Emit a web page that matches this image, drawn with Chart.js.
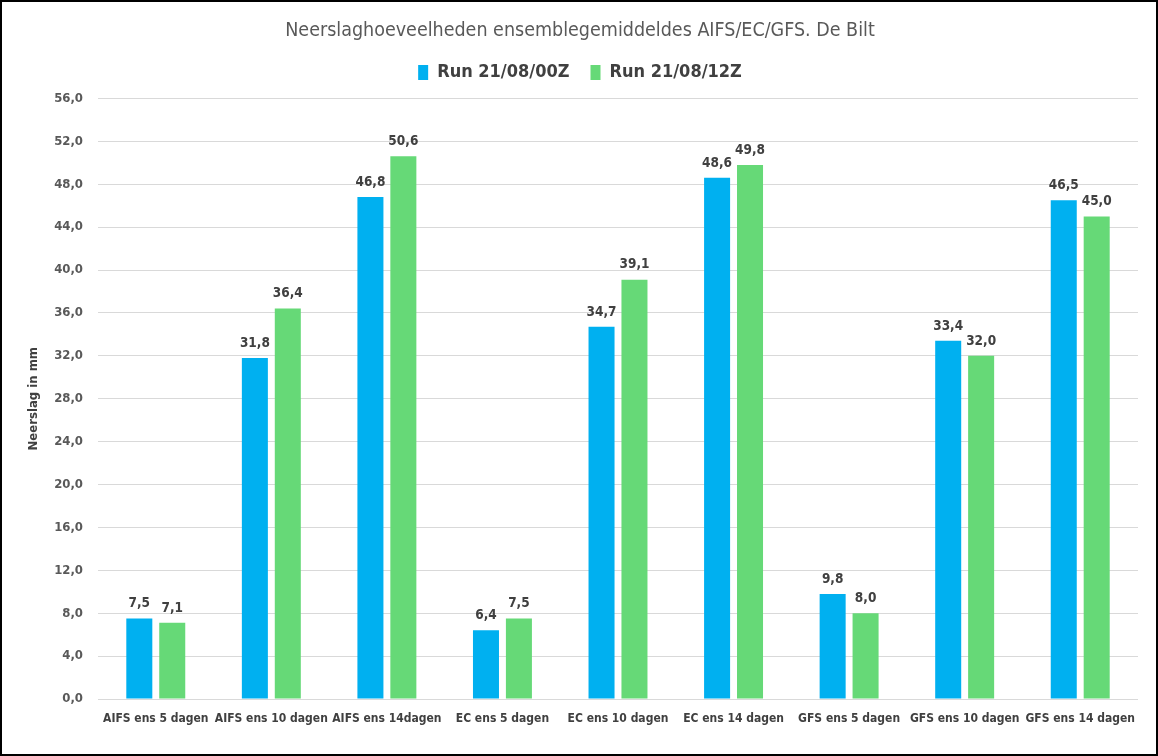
<!DOCTYPE html>
<html>
<head>
<meta charset="utf-8">
<script src="https://cdn.jsdelivr.net/npm/chart.js@4"></script>
<style>
  body { margin: 0; background: #fff; }
  .frame { width: 1154px; height: 752px; border: 2px solid #000; }
</style>
</head>
<body>
<div class="frame"><canvas id="myChart" width="1154" height="752"></canvas></div>
<script>
const categories = [
  "AIFS ens 5 dagen", "AIFS ens 10 dagen", "AIFS ens 14dagen",
  "EC ens 5 dagen", "EC ens 10 dagen", "EC ens 14 dagen",
  "GFS ens 5 dagen", "GFS ens 10 dagen", "GFS ens 14 dagen"
];
const run00 = [7.5, 31.8, 46.8, 6.4, 34.7, 48.6, 9.8, 33.4, 46.5];
const run12 = [7.1, 36.4, 50.6, 7.5, 39.1, 49.8, 8.0, 32.0, 45.0];
const seriesNames = ["Run 21/08/00Z", "Run 21/08/12Z"];

const FONT = '"Liberation Sans Narrow", "DejaVu Sans Condensed", sans-serif';
const canvasChart = document.getElementById("myChart");

function fmt(v) {
  return v.toFixed(1).replace(".", ",");
}

// labels boven de staven
const valueLabels = {
  id: "valueLabels",
  afterDatasetsDraw(chart) {
    const ctx = chart.ctx;
    ctx.save();
    ctx.font = "bold 13.5px " + FONT;
    ctx.fillStyle = "#404040";
    ctx.textAlign = "center";
    ctx.textBaseline = "bottom";
    chart.data.datasets.forEach((ds, i) => {
      chart.getDatasetMeta(i).data.forEach((bar, j) => {
        ctx.fillText(fmt(ds.data[j]), bar.x, bar.y - 8);
      });
    });
    ctx.restore();
  }
};

// wat extra ruimte onder de legenda
const legendSpace = {
  id: "legendSpace",
  beforeInit(chart) {
    const fit = chart.legend.fit;
    chart.legend.fit = function () {
      fit.bind(chart.legend)();
      this.height += 7;
    };
  }
};

new Chart(canvasChart, {
  type: "bar",
  data: {
    labels: categories,
    datasets: [
      { label: seriesNames[0], data: run00, backgroundColor: "#00B0F0" },
      { label: seriesNames[1], data: run12, backgroundColor: "#66D977" }
    ]
  },
  options: {
    responsive: false,
    animation: false,
    layout: { padding: { left: 20, right: 18, top: 7, bottom: 25 } },
    datasets: { bar: { categoryPercentage: 0.57, barPercentage: 0.79 } },
    plugins: {
      title: {
        display: true,
        text: "Neerslaghoeveelheden ensemblegemiddeldes AIFS/EC/GFS. De Bilt",
        color: "#595959",
        font: { family: FONT, size: 19.5, weight: "normal" },
        padding: { top: 10, bottom: 0 }
      },
      legend: {
        labels: {
          color: "#404040",
          font: { family: FONT, size: 18, weight: "bold" },
          boxWidth: 10,
          boxHeight: 15,
          padding: 21
        }
      },
      tooltip: { enabled: false }
    },
    scales: {
      x: {
        grid: { display: false },
        border: { display: false },
        ticks: { autoSkip: false, padding: 5, color: "#404040", font: { family: FONT, size: 12, weight: "bold" }, maxRotation: 0 },
        afterFit: (s) => { s.height = 30; }
      },
      y: {
        min: 0,
        max: 56,
        grid: { color: "#d9d9d9", drawTicks: false },
        border: { display: false },
        ticks: { stepSize: 4, color: "#595959", font: { family: FONT, size: 13, weight: "bold" }, callback: (v) => fmt(v), padding: 15 },
        title: { display: true, text: "Neerslag in mm", color: "#404040", font: { family: FONT, size: 13, weight: "bold" } },
        afterFit: (s) => { s.width = 76; }
      }
    }
  },
  plugins: [valueLabels, legendSpace]
});
</script>
</body>
</html>
